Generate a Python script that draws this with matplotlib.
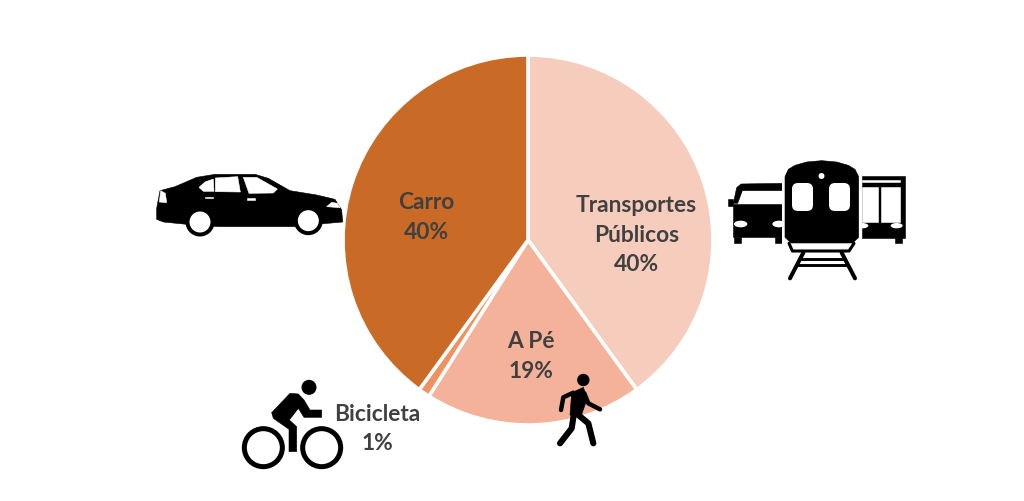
import numpy as np
import matplotlib
matplotlib.use('Agg')
import matplotlib.pyplot as plt
from matplotlib.patches import Polygon, Circle, Ellipse, FancyBboxPatch, Rectangle

# mode share values
categories = ['Transportes\nPúblicos', 'A Pé', 'Bicicleta', 'Carro']
shares = [40, 19, 1, 40]
pct_labels = ['40%', '19%', '1%', '40%']
colors = ['#F6CDBD', '#F4B29B', '#F0915F', '#C96A27']

W, H = 1024, 501
fig = plt.figure(figsize=(W / 100, H / 100), dpi=100)

# pie axes placed so that centre and radius land where they should
cx, cy, r = 528, 240, 185
ax_pie = fig.add_axes([(cx - r) / W, 1 - (cy + r) / H, 2 * r / W, 2 * r / H])
ax_pie.pie(shares, colors=colors, startangle=90, counterclock=False, radius=1,
           wedgeprops=dict(edgecolor='white', linewidth=2.6))
ax_pie.set_xlim(-1, 1)
ax_pie.set_ylim(-1, 1)

# overlay in pixel coordinates for the icons and labels
ax = fig.add_axes([0, 0, 1, 1])
ax.set_xlim(0, W)
ax.set_ylim(H, 0)
ax.axis('off')
ax.patch.set_alpha(0)

BLACK = '#000000'


def poly(pts, ox, oy, color=BLACK):
    xy = [(ox + a / 3, oy + b / 3) for a, b in pts]
    ax.add_patch(Polygon(xy, closed=True, fc=color, ec=color, lw=0.4))


def rbox(x, y, w, h, rad, color=BLACK):
    ax.add_patch(FancyBboxPatch((x + rad, y + rad), w - 2 * rad, h - 2 * rad,
                                boxstyle='round,pad=%f' % rad, fc=color, ec='none'))


def line(pts, ox, oy, lw, color=BLACK):
    xs = [ox + p[0] / 3 for p in pts]
    ys = [oy + p[1] / 3 for p in pts]
    ax.plot(xs, ys, color=color, lw=lw, solid_capstyle='round', solid_joinstyle='round')


def oval(a, b, rx, ry, ox, oy, color='white'):
    ax.add_patch(Ellipse((ox + a / 3, oy + b / 3), 2 * rx / 3, 2 * ry / 3, fc=color, ec='none'))


# car
ox, oy = 140, 160
poly([(50, 178), (50, 145), (60, 92), (105, 80), (170, 52), (225, 43), (345, 43),
      (385, 55), (450, 92), (530, 105), (585, 118), (605, 150), (608, 186),
      (540, 192), (470, 200), (240, 200), (150, 194), (70, 186)], ox, oy)
for zx, zy in [(180, 186), (505, 182)]:
    ax.add_patch(Circle((ox + zx / 3, oy + zy / 3), 14.5, fc=BLACK, ec='none'))
    ax.add_patch(Circle((ox + zx / 3, oy + zy / 3), 10.5, fc='white', ec='none'))
poly([(177, 82), (195, 66), (220, 57), (222, 94), (190, 94)], ox, oy, 'white')
poly([(226, 54), (293, 50), (301, 96), (226, 95)], ox, oy, 'white')
poly([(310, 52), (350, 52), (412, 87), (400, 99), (327, 100)], ox, oy, 'white')
poly([(62, 92), (76, 100), (80, 128), (58, 126)], ox, oy, 'white')
poly([(560, 140), (575, 127), (592, 130), (600, 143)], ox, oy, 'white')
poly([(195, 110), (218, 110), (218, 115), (195, 115)], ox, oy, 'white')
poly([(322, 114), (345, 114), (345, 119), (322, 119)], ox, oy, 'white')

# left bus
ox, oy = 725, 175
poly([(25, 85), (35, 38), (48, 27), (175, 25), (175, 47), (52, 47), (38, 85)], ox, oy)
poly([(25, 88), (175, 88), (175, 185), (25, 185)], ox, oy)
poly([(10, 72), (25, 72), (25, 92), (10, 92)], ox, oy)
poly([(28, 185), (47, 185), (47, 205), (28, 205)], ox, oy)
poly([(150, 185), (170, 185), (170, 205), (150, 205)], ox, oy)
oval(47, 147, 20, 10, ox, oy)
oval(162, 147, 20, 10, ox, oy)

# right bus
ox, oy = 855, 170
poly([(20, 18), (150, 18), (150, 205), (20, 205)], ox, oy)
poly([(20, 30), (135, 30), (135, 36), (20, 36)], ox, oy, 'white')
poly([(20, 50), (70, 50), (70, 155), (20, 155)], ox, oy, 'white')
poly([(78, 50), (135, 50), (135, 155), (78, 155)], ox, oy, 'white')
poly([(120, 205), (142, 205), (142, 218), (120, 218)], ox, oy)
oval(125, 167, 18, 8, ox, oy)
oval(22, 167, 18, 8, ox, oy)

# train in front of both buses
ax.add_patch(Rectangle((782, 172), 79, 80, fc='white', ec='none'))
ox, oy = 720, 150
poly([(195, 80), (205, 58), (225, 46), (260, 36), (305, 32), (350, 36), (385, 46), (405, 58),
      (416, 80), (416, 262), (398, 279), (213, 279), (195, 262)], ox, oy)
rbox(792, 183, 21, 28, 6, 'white')
rbox(829, 183, 21, 28, 6, 'white')
ax.add_patch(Circle((821.5, 176), 3, fc='white', ec='none'))

# track
ox, oy = 780, 230
line([(27, 40), (37, 63), (207, 63), (222, 40)], ox, oy, 2.2)
line([(70, 68), (30, 145)], ox, oy, 2.9)
line([(185, 68), (225, 145)], ox, oy, 2.9)
line([(62, 87), (192, 87)], ox, oy, 2.1)
line([(52, 106), (202, 106)], ox, oy, 2.1)

# cyclist
ox, oy = 230, 370
for zx, zy in [(100, 233), (275, 233)]:
    ax.add_patch(Circle((ox + zx / 3, oy + zy / 3), 19, fc='none', ec=BLACK, lw=3.6))
ax.add_patch(Circle((ox + 237 / 3, oy + 52 / 3), 7.5, fc=BLACK, ec='none'))
poly([(125, 128), (180, 70), (205, 72), (222, 90), (240, 120), (275, 120), (275, 142),
      (222, 142), (205, 115), (178, 150), (200, 170), (200, 245), (177, 245),
      (177, 178), (130, 145)], ox, oy)

# walker
ox, oy = 550, 370
ax.add_patch(Circle((ox + 100 / 3, oy + 30 / 3), 6.2, fc=BLACK, ec='none'))
poly([(65, 68), (100, 52), (112, 85), (92, 142), (60, 135)], ox, oy)
line([(70, 68), (40, 82), (33, 120)], ox, oy, 3.2)
line([(103, 70), (115, 100), (150, 118)], ox, oy, 3.2)
line([(72, 130), (65, 175), (30, 220)], ox, oy, 4.4)
line([(85, 135), (115, 160), (130, 220)], ox, oy, 4.4)

# labels, drawn from the arrays above
label_pos = [(636.5, 235), (531, 356.5), (377, 429), (426, 217.5)]
for cat, pct, (x, y) in zip(categories, pct_labels, label_pos):
    ax.text(x, y, cat + '\n' + pct, ha='center', va='center', fontsize=16.4,
            fontweight='bold', family='Lato', color='#404040', linespacing=1.5)

fig.savefig('out.png', dpi=100, facecolor='white')
